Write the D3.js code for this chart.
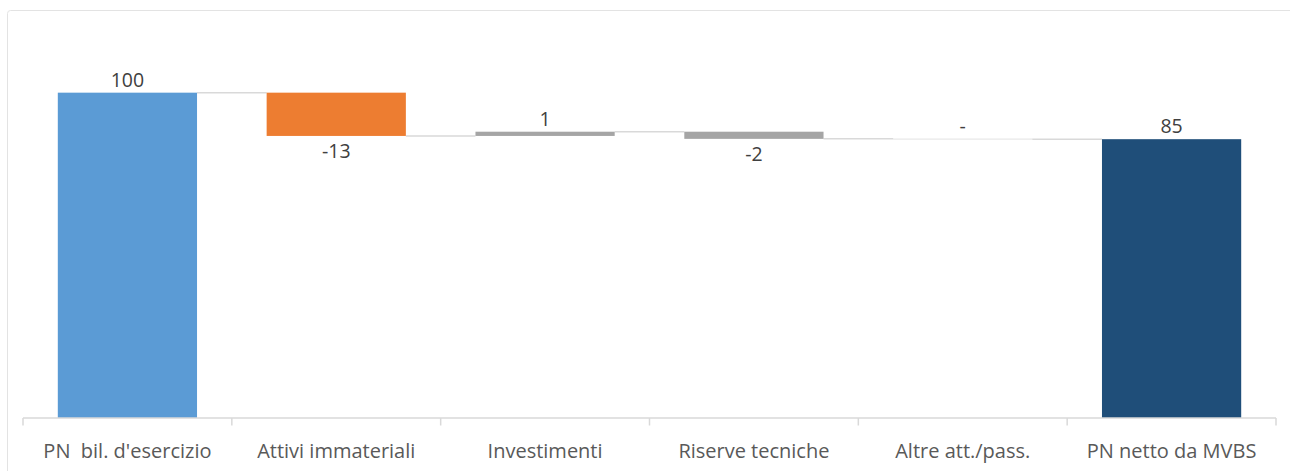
<!DOCTYPE html>
<html><head><meta charset="utf-8">
<script src="https://cdn.jsdelivr.net/npm/d3@7/dist/d3.min.js"></script>
<style>
html,body{margin:0;padding:0;background:#fff;}
svg{display:block;font-family:"Open Sans",sans-serif;}
</style></head>
<body>
<svg id="chart" width="1290" height="471"></svg>
<script>
const categories = ["PN  bil. d'esercizio","Attivi immateriali","Investimenti","Riserve tecniche","Altre att./pass.","PN netto da MVBS"];
const values = [100, -13.3, 1.3, -2.2, -0.1, 85.7];
const kinds = ["total","delta","delta","delta","delta","total"];
const valueLabels = ["100","-13","1","-2","-","85"];
const colors = ["#5B9BD5","#ED7D31","#A5A5A5","#A5A5A5","#A5A5A5","#1F4E79"];

const svg = d3.select("#chart");
const W = 1290, H = 471;

// chart border
svg.append("rect").attr("x",7.5).attr("y",10.5).attr("width",W+20).attr("height",H+20)
  .attr("rx",3).attr("fill","none").attr("stroke","#e3e3e3").attr("stroke-width",1);

const x = d3.scaleBand().domain(categories).range([23,1276]).paddingInner(1/3).paddingOuter(1/6);
const y = d3.scaleLinear().domain([0,120]).range([418,27.6]);

// compute waterfall segments
let cum = 0;
const segs = categories.map((c,i)=>{
  let start, end;
  if (kinds[i]==="total"){ start=0; end=values[i]; cum=values[i]; }
  else { start=cum; end=cum+values[i]; cum=end; }
  return {c, i, start, end, v:values[i], label:valueLabels[i], color:colors[i]};
});

// connectors
const conn = svg.append("g");
for (let i=0;i<segs.length-1;i++){
  const lvl = segs[i].end;
  conn.append("line")
    .attr("x1", x(segs[i].c)+x.bandwidth()).attr("x2", x(segs[i+1].c))
    .attr("y1", y(lvl)).attr("y2", y(lvl))
    .attr("stroke","#d9d9d9").attr("stroke-width",1.5);
}

// bars
svg.append("g").selectAll("rect").data(segs).join("rect")
  .attr("x", d=>x(d.c)).attr("width", x.bandwidth())
  .attr("y", d=>y(Math.max(d.start,d.end)))
  .attr("height", d=>Math.max(Math.abs(y(d.start)-y(d.end)), 0))
  .attr("fill", d=>d.color);

// axis
const ax = svg.append("g").attr("transform","translate(0,418)");
ax.append("line").attr("x1",23).attr("x2",1276).attr("y1",0).attr("y2",0)
  .attr("stroke","#d9d9d9").attr("stroke-width",1.5);
const tickXs = d3.range(categories.length+1).map(i=>23 + i*(1253/categories.length));
ax.selectAll("line.t").data(tickXs).join("line").attr("class","t")
  .attr("x1",d=>d).attr("x2",d=>d).attr("y1",0).attr("y2",7.5)
  .attr("stroke","#d9d9d9").attr("stroke-width",1.5);
ax.selectAll("text.cat").data(categories).join("text").attr("class","cat")
  .attr("x", d=>x(d)+x.bandwidth()/2).attr("y", 39.5)
  .attr("text-anchor","middle").attr("fill","#595959")
  .style("font-size","20px").style("white-space","pre")
  .attr("xml:space","preserve")
  .text(d=>d);

// value labels
svg.append("g").selectAll("text").data(segs).join("text")
  .attr("x", d=>x(d.c)+x.bandwidth()/2)
  .attr("y", d=>{
    if (d.v>=0) return y(Math.max(d.start,d.end)) - 6;
    if (d.label==="-") return y(Math.max(d.start,d.end)) - 6;
    return y(Math.min(d.start,d.end)) + 22.5;
  })
  .attr("text-anchor","middle").attr("fill","#404040")
  .style("font-size","19.5px")
  .text(d=>d.label);
</script>
</body></html>
